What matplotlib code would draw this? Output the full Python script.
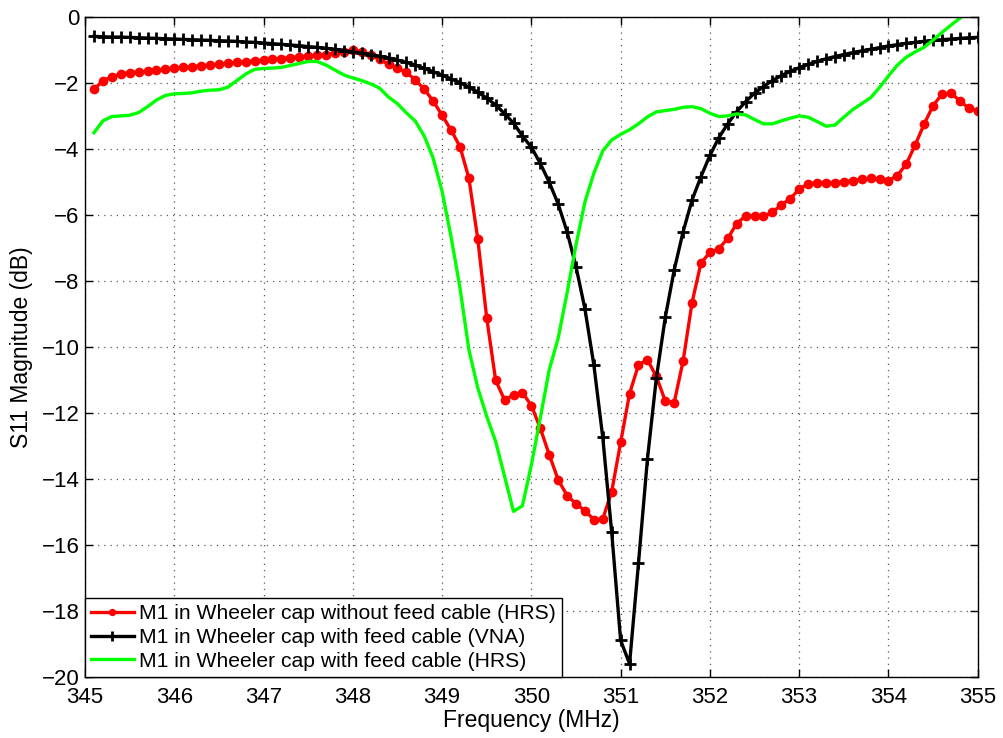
import numpy as np
import matplotlib
matplotlib.use("Agg")
import matplotlib.pyplot as plt

plt.rcParams['font.family'] = ['Liberation Sans', 'DejaVu Sans']

# Frequency sweep (MHz): samples every 0.1 MHz from 345.1 to 355.0
freq = np.round(np.linspace(345.1, 355.0, 100), 2)

s11_no_cable_hrs = [
    -2.18, -1.93, -1.80, -1.72, -1.68, -1.66, -1.64, -1.61, -1.58,
    -1.55, -1.52, -1.50, -1.47, -1.45, -1.42, -1.40, -1.37, -1.35, -1.32,
    -1.30, -1.27, -1.25, -1.22, -1.20, -1.17, -1.14, -1.13, -1.09, -1.06,
    -0.98, -1.06, -1.14, -1.28, -1.42, -1.54, -1.67, -1.90, -2.18, -2.54,
    -2.97, -3.42, -3.92, -4.88, -6.73, -9.12, -11.01, -11.60, -11.45, -11.38,
    -11.77, -12.46, -13.26, -14.02, -14.50, -14.75, -14.96, -15.23, -15.21, -14.38,
    -12.89, -11.41, -10.54, -10.38, -10.89, -11.63, -11.68, -10.42, -8.65, -7.45,
    -7.13, -7.02, -6.70, -6.26, -6.02, -6.02, -6.04, -5.91, -5.69, -5.50,
    -5.21, -5.05, -5.01, -5.01, -5.01, -4.99, -4.95, -4.91, -4.88, -4.90,
    -4.95, -4.80, -4.45, -3.87, -3.24, -2.68, -2.33, -2.30, -2.53, -2.76,
    -2.83,
]

s11_cable_vna = [
    -0.58, -0.59, -0.60, -0.60, -0.61, -0.62, -0.63, -0.64, -0.65,
    -0.66, -0.67, -0.68, -0.69, -0.70, -0.71, -0.72, -0.73, -0.75, -0.76,
    -0.78, -0.80, -0.82, -0.84, -0.86, -0.89, -0.91, -0.94, -0.97, -1.01,
    -1.05, -1.09, -1.13, -1.18, -1.23, -1.30, -1.37, -1.45, -1.55, -1.65,
    -1.75, -1.87, -1.98, -2.12, -2.27, -2.45, -2.66, -2.92, -3.21, -3.60,
    -3.94, -4.43, -5.00, -5.66, -6.50, -7.56, -8.84, -10.54, -12.74, -15.62,
    -18.89, -19.60, -16.55, -13.40, -10.94, -9.10, -7.66, -6.50, -5.54, -4.83,
    -4.19, -3.65, -3.23, -2.86, -2.56, -2.30, -2.10, -1.92, -1.77, -1.64,
    -1.53, -1.43, -1.34, -1.26, -1.19, -1.13, -1.07, -1.02, -0.97, -0.92,
    -0.87, -0.83, -0.79, -0.76, -0.73, -0.70, -0.68, -0.66, -0.64, -0.62,
    -0.61,
]

s11_cable_hrs = [
    -3.50, -3.14, -3.01, -2.99, -2.97, -2.89, -2.71, -2.51, -2.37,
    -2.32, -2.31, -2.29, -2.24, -2.21, -2.20, -2.12, -1.92, -1.72, -1.58,
    -1.55, -1.54, -1.52, -1.46, -1.40, -1.34, -1.34, -1.45, -1.60, -1.75,
    -1.84, -1.92, -2.02, -2.15, -2.42, -2.62, -2.90, -3.15, -3.60, -4.27,
    -5.28, -6.65, -8.20, -10.08, -11.24, -12.10, -12.86, -13.92, -14.98, -14.81,
    -13.57, -12.15, -10.69, -9.73, -8.36, -6.90, -5.60, -4.73, -4.05, -3.72,
    -3.55, -3.41, -3.23, -3.02, -2.87, -2.83, -2.79, -2.73, -2.71, -2.77,
    -2.91, -3.01, -2.99, -2.93, -2.96, -3.10, -3.23, -3.23, -3.14, -3.06,
    -2.99, -3.03, -3.16, -3.30, -3.27, -3.03, -2.80, -2.62, -2.44, -2.13,
    -1.78, -1.45, -1.21, -1.05, -0.91, -0.69, -0.46, -0.24, -0.03, 0.20,
    0.42,
]

labels = [
    "M1 in Wheeler cap without feed cable (HRS)",
    "M1 in Wheeler cap with feed cable (VNA)",
    "M1 in Wheeler cap with feed cable (HRS)",
]
xticks = [345, 346, 347, 348, 349, 350, 351, 352, 353, 354, 355]
yticks = [0, -2, -4, -6, -8, -10, -12, -14, -16, -18, -20]

fig = plt.figure(figsize=(10.04, 7.38), dpi=100)
ax = fig.add_axes([0.0847, 0.0827, 0.8891, 0.8939])

ax.plot(freq, s11_no_cable_hrs, color=(1, 0, 0), lw=2.4, marker='o',
        markersize=7, markeredgewidth=0, label=labels[0])
ax.plot(freq, s11_cable_vna, color='black', lw=2.4, marker='+',
        markersize=9, markeredgewidth=2.0, label=labels[1])
ax.plot(freq, s11_cable_hrs, color=(0, 1, 0), lw=2.4, label=labels[2])

ax.set_xlim(345, 355)
ax.set_ylim(-20, 0)
ax.set_xticks(xticks)
ax.set_yticks(yticks)
ax.tick_params(direction='in', length=6, width=1, top=True, right=True,
               labelsize=16)
ax.tick_params(axis='x', pad=7)
ax.tick_params(axis='y', pad=4)
ax.grid(True, color='0.35', linestyle=(0, (1, 4)), linewidth=0.9)
for s in ax.spines.values():
    s.set_linewidth(1.0)
    s.set_color('black')

ax.set_xlabel("Frequency (MHz)", fontsize=16.5, labelpad=1)
ax.set_ylabel("S11 Magnitude (dB)", fontsize=16.5, labelpad=6)

leg = ax.legend(loc='lower left', bbox_to_anchor=(0, 0), borderaxespad=0,
                fontsize=15.2, handlelength=2.0, handletextpad=0.25,
                labelspacing=0.22, borderpad=0.3, fancybox=False,
                framealpha=1, edgecolor='black', markerscale=0.75)
leg.get_frame().set_linewidth(1.0)

fig.savefig("out.png", dpi=100)
